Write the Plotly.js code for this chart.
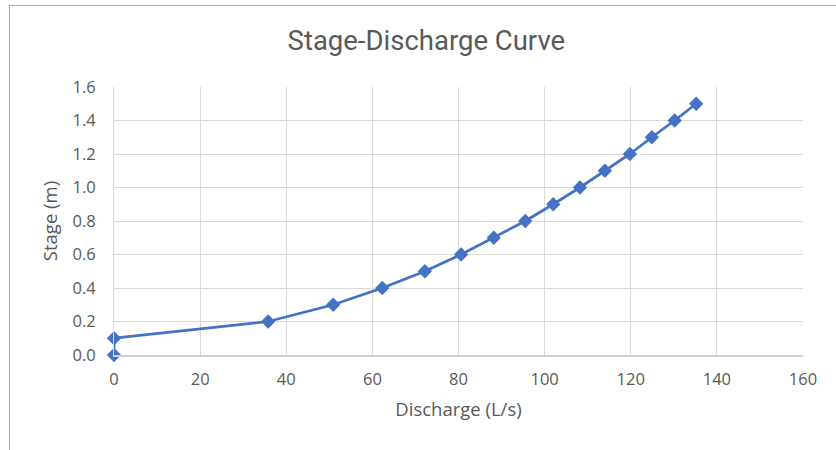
<!DOCTYPE html>
<html>
<head>
<meta charset="utf-8">
<script src="https://cdn.plot.ly/plotly-3.0.1.min.js"></script>
<style>
  html, body { margin: 0; padding: 0; background: #fff; }
  #chart { width: 836px; height: 450px; }
  #frame { position: absolute; left: 9px; top: 5px; width: 840px; height: 460px;
           border-top: 1.5px solid #a6a6a6; border-left: 1.5px solid #a6a6a6; pointer-events: none; }
</style>
</head>
<body>
<div id="chart"></div>
<div id="frame"></div>
<script>
// Discharge (L/s) and Stage (m)
const discharge = [0, 0, 35.8, 50.9, 62.3, 72.2, 80.6, 88.2, 95.5, 102, 108.2, 114, 119.8, 124.9, 130.2, 135.2];
const stage     = [0, 0.1, 0.2, 0.3, 0.4, 0.5, 0.6, 0.7, 0.8, 0.9, 1.0, 1.1, 1.2, 1.3, 1.4, 1.5];
const xTicks = [0, 20, 40, 60, 80, 100, 120, 140, 160];
const yTicks = [0, 0.2, 0.4, 0.6, 0.8, 1.0, 1.2, 1.4, 1.6];

const trace = {
  x: discharge, y: stage, type: 'scatter', mode: 'lines+markers',
  line: { color: '#4472C4', width: 2.75 },
  marker: { symbol: 'diamond', size: 11, color: '#4472C4' },
  cliponaxis: false, hoverinfo: 'x+y'
};

const axisFont = { family: 'Open Sans, Noto Sans, sans-serif', size: 16.5, color: '#595959' };
const titleFont = { family: 'Open Sans, Noto Sans, sans-serif', size: 18.5, color: '#595959' };

const layout = {
  width: 836, height: 450,
  margin: { l: 114, r: 33, t: 87, b: 95 },
  paper_bgcolor: '#fff', plot_bgcolor: '#fff',
  showlegend: false,
  title: {
    text: 'Stage-Discharge Curve',
    font: { family: 'Liberation Sans Narrow, Roboto, Open Sans, sans-serif', size: 27.5, color: '#595959' },
    x: 0.51, xref: 'container', xanchor: 'center',
    y: 0.91, yref: 'container', yanchor: 'middle'
  },
  xaxis: {
    range: [0, 160], tickvals: xTicks, ticktext: xTicks.map(String),
    showgrid: true, gridcolor: '#d9d9d9', gridwidth: 1,
    showline: true, linecolor: '#d0d0d0', linewidth: 1.5, mirror: false,
    zeroline: false,
    ticks: 'outside', ticklen: 9, tickcolor: 'rgba(0,0,0,0)',
    tickfont: axisFont,
    title: { text: 'Discharge (L/s)', font: titleFont, standoff: 14 }
  },
  yaxis: {
    range: [0, 1.6], tickvals: yTicks, ticktext: yTicks.map(v => v.toFixed(1)),
    showgrid: true, gridcolor: '#d9d9d9', gridwidth: 1,
    showline: true, linecolor: '#d9d9d9', linewidth: 1,
    zeroline: false,
    ticks: 'outside', ticklen: 14, tickcolor: 'rgba(0,0,0,0)',
    tickfont: axisFont,
    title: { text: 'Stage (m)', font: titleFont, standoff: 10 }
  }
};

Plotly.newPlot('chart', [trace], layout, { displayModeBar: false, staticPlot: true });
</script>
</body>
</html>
